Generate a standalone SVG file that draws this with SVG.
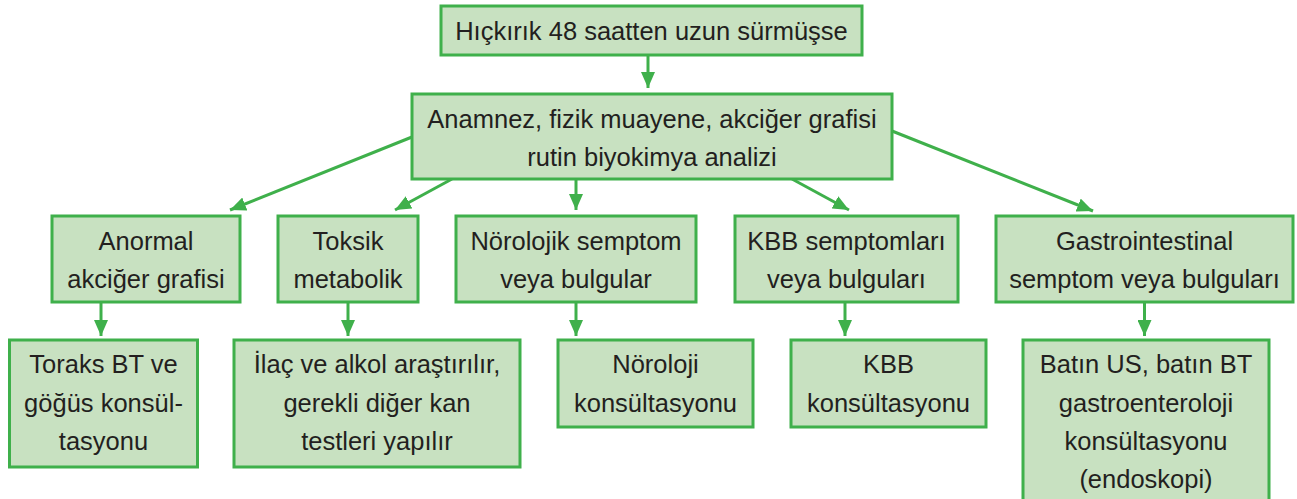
<svg xmlns="http://www.w3.org/2000/svg" width="1297" height="499" viewBox="0 0 1297 499">
<style>
.box{fill:#c8e1c1;stroke:#3fb04b;stroke-width:3}
.t{font-family:"Liberation Sans",Arial,sans-serif;font-size:25.5px;fill:#231f20;text-anchor:middle}
.c{stroke:#3fb04b;stroke-width:3;fill:none;marker-end:url(#ah)}
</style>
<defs>
<marker id="ah" markerUnits="userSpaceOnUse" markerWidth="16" markerHeight="14" refX="16" refY="7" orient="auto">
<path d="M0,0 L16,7 L0,14 Z" fill="#3fb04b"/>
</marker>
</defs>
<rect width="1297" height="499" fill="#ffffff"/>
<g id="connectors">
<line class="c" x1="648" y1="55" x2="648" y2="88"/>
<line class="c" x1="412" y1="137" x2="230" y2="210"/>
<line class="c" x1="452" y1="179" x2="395" y2="210"/>
<line class="c" x1="576" y1="179" x2="576" y2="210"/>
<line class="c" x1="792" y1="179" x2="849" y2="210"/>
<line class="c" x1="892" y1="131" x2="1093" y2="211"/>
<line class="c" x1="101" y1="302" x2="101" y2="336"/>
<line class="c" x1="348" y1="302" x2="348" y2="336"/>
<line class="c" x1="576" y1="302" x2="576" y2="336"/>
<line class="c" x1="845" y1="302" x2="845" y2="336"/>
<line class="c" x1="1144.5" y1="302" x2="1144.5" y2="336"/>
</g>
<g id="n1"><rect class="box" x="441" y="6" width="421" height="49"/><text class="t" x="651.5" y="40">Hıçkırık 48 saatten uzun sürmüşse</text></g>
<g id="n2"><rect class="box" x="412" y="94" width="480" height="85"/><text class="t" x="652" y="128">Anamnez, fizik muayene, akciğer grafisi</text><text class="t" x="652" y="166">rutin biyokimya analizi</text></g>
<g id="n3"><rect class="box" x="52" y="216" width="188" height="86"/><text class="t" x="146" y="250">Anormal</text><text class="t" x="146" y="288">akciğer grafisi</text></g>
<g id="n4"><rect class="box" x="278" y="216" width="140" height="86"/><text class="t" x="348" y="250">Toksik</text><text class="t" x="348" y="288">metabolik</text></g>
<g id="n5"><rect class="box" x="456" y="216" width="240" height="86"/><text class="t" x="576" y="250">Nörolojik semptom</text><text class="t" x="576" y="288">veya bulgular</text></g>
<g id="n6"><rect class="box" x="735" y="216" width="223" height="86"/><text class="t" x="846.5" y="250">KBB semptomları</text><text class="t" x="846.5" y="288">veya bulguları</text></g>
<g id="n7"><rect class="box" x="996" y="216" width="297" height="86"/><text class="t" x="1144.5" y="250">Gastrointestinal</text><text class="t" x="1144.5" y="288">semptom veya bulguları</text></g>
<g id="n8"><rect class="box" x="9.5" y="340" width="188" height="127"/><text class="t" x="103.5" y="373">Toraks BT ve</text><text class="t" x="103.5" y="412">göğüs konsül-</text><text class="t" x="103.5" y="450">tasyonu</text></g>
<g id="n9"><rect class="box" x="234" y="340" width="286" height="127"/><text class="t" x="377" y="373">İlaç ve alkol araştırılır,</text><text class="t" x="377" y="412">gerekli diğer kan</text><text class="t" x="377" y="450">testleri yapılır</text></g>
<g id="n10"><rect class="box" x="558" y="340" width="195" height="87"/><text class="t" x="655.5" y="373">Nöroloji</text><text class="t" x="655.5" y="412">konsültasyonu</text></g>
<g id="n11"><rect class="box" x="791" y="340" width="195" height="87"/><text class="t" x="888.5" y="373">KBB</text><text class="t" x="888.5" y="412">konsültasyonu</text></g>
<g id="n12"><rect class="box" x="1023" y="340" width="246" height="170"/><text class="t" x="1146" y="373">Batın US, batın BT</text><text class="t" x="1146" y="412">gastroenteroloji</text><text class="t" x="1146" y="450">konsültasyonu</text><text class="t" x="1146" y="488">(endoskopi)</text></g>
</svg>
